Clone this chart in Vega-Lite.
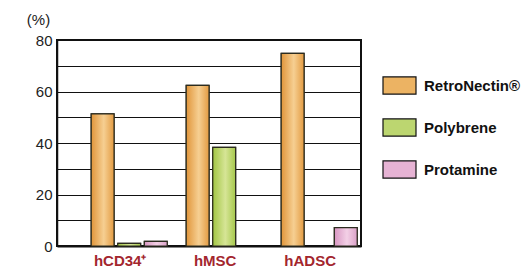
{
  "$schema": "https://vega.github.io/schema/vega-lite/v6.json",
  "width": 304,
  "height": 206,
  "autosize": {"type": "none"},
  "padding": {"left": 57, "top": 40, "right": 164, "bottom": 22},
  "background": "white",
  "config": {
    "font": "Liberation Sans",
    "view": {"stroke": "#111", "strokeWidth": 2}
  },
  "data": {
    "values": [
      {"cell": "hCD34⁺", "agent": "RetroNectin®", "pct": 51.3},
      {"cell": "hCD34⁺", "agent": "Polybrene", "pct": 1.0},
      {"cell": "hCD34⁺", "agent": "Protamine", "pct": 1.8},
      {"cell": "hMSC", "agent": "RetroNectin®", "pct": 62.4},
      {"cell": "hMSC", "agent": "Polybrene", "pct": 38.3},
      {"cell": "hADSC", "agent": "RetroNectin®", "pct": 74.8},
      {"cell": "hADSC", "agent": "Protamine", "pct": 7.1}
    ]
  },
  "encoding": {
    "x": {
      "field": "cell", "type": "nominal", "sort": ["hCD34⁺", "hMSC", "hADSC"],
      "scale": {"paddingInner": 0.2, "paddingOuter": 0.2, "align": 0.9},
      "axis": {
        "title": null, "labelAngle": 0, "ticks": false, "domain": true,
        "domainColor": "#111", "domainWidth": 2,
        "labelFont": "Liberation Sans", "labelFontWeight": "bold", "labelFontSize": 15,
        "labelColor": "#a3262e", "labelPadding": 7, "labelOffset": -9
      }
    },
    "xOffset": {
      "field": "agent", "type": "nominal", "sort": ["RetroNectin®", "Polybrene", "Protamine"],
      "scale": {"paddingInner": 0.14, "paddingOuter": 0}
    },
    "y": {
      "field": "pct", "type": "quantitative",
      "scale": {"domain": [0, 80], "nice": false},
      "axis": {
        "title": "(%)", "titleAngle": 0, "titleFontWeight": "normal", "titleFontSize": 15,
        "titleColor": "#222", "titleX": -19, "titleY": -13, "titleAlign": "center", "titleBaseline": "bottom",
        "values": [0, 10, 20, 30, 40, 50, 60, 70, 80],
        "labelExpr": "datum.value % 20 == 0 ? datum.label : ''",
        "ticks": false, "labelPadding": 5, "labelFontSize": 15, "labelColor": "#222",
        "domainColor": "#111", "domainWidth": 1.5,
        "grid": true, "gridColor": "#111", "gridWidth": 1, "gridOpacity": 1
      }
    }
  },
  "layer": [
    {
      "mark": {"type": "bar", "stroke": "#2b2b1e", "strokeWidth": 1.2},
      "encoding": {
        "color": {
          "field": "agent", "type": "nominal", "sort": ["RetroNectin®", "Polybrene", "Protamine"],
          "scale": {"domain": ["RetroNectin®", "Polybrene", "Protamine"], "range": ["#ecb363", "#bcd670", "#e6b3d4"]},
          "legend": {
            "title": null, "orient": "none", "legendX": 325, "legendY": 28,
            "symbolType": "M-1,-0.52H1V0.52H-1Z", "symbolSize": 1089,
            "symbolStrokeColor": "#111", "symbolStrokeWidth": 1.2, "symbolOpacity": 1,
            "labelFont": "Liberation Sans", "labelFontWeight": "bold", "labelFontSize": 15,
            "labelColor": "#111", "labelOffset": 7, "rowPadding": 13
          }
        }
      }
    },
    {
      "mark": {
        "type": "bar", "stroke": "#2b2b1e", "strokeWidth": 1.2
      },
      "encoding": {
        "fill": {
          "condition": [
            {"test": "datum.agent == 'RetroNectin®'", "value": {"gradient": "linear", "x1": 0, "x2": 1, "y1": 0, "y2": 0, "stops": [{"offset": 0, "color": "#e0953a"}, {"offset": 0.55, "color": "#f6cf92"}, {"offset": 1, "color": "#e39b42"}]}},
            {"test": "datum.agent == 'Polybrene'", "value": {"gradient": "linear", "x1": 0, "x2": 1, "y1": 0, "y2": 0, "stops": [{"offset": 0, "color": "#a2c644"}, {"offset": 0.55, "color": "#d6e596"}, {"offset": 1, "color": "#a6c84c"}]}}
          ],
          "value": {"gradient": "linear", "x1": 0, "x2": 1, "y1": 0, "y2": 0, "stops": [{"offset": 0, "color": "#d896c2"}, {"offset": 0.55, "color": "#f3d0e6"}, {"offset": 1, "color": "#dba0c8"}]}
        }
      }
    }
  ]
}
